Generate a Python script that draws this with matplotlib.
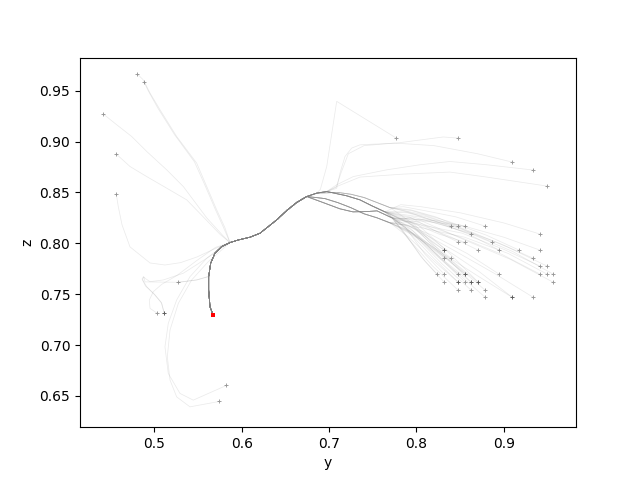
import matplotlib
matplotlib.use('Agg')
import matplotlib.pyplot as plt

end_point = (0.5675, 0.7292)

# shared parts of the paths (data coordinates, y -> horizontal, z -> vertical)
strand_u = [(0.7639, 0.8309), (0.7491, 0.8368), (0.7353, 0.8427), (0.7201, 0.8467)]
strand_v = [(0.7700, 0.8350), (0.7550, 0.8400), (0.7400, 0.8450), (0.7250, 0.8482),
            (0.7100, 0.8500)]
strand_l = [(0.7720, 0.8250), (0.7548, 0.8319), (0.7433, 0.8312), (0.7273, 0.8309),
            (0.7124, 0.8339), (0.6930, 0.8401)]
strand_m = [(0.7700, 0.8200), (0.7550, 0.8250), (0.7400, 0.8290), (0.7250, 0.8350),
            (0.7100, 0.8400), (0.6950, 0.8440)]
tail_peak = [(0.6973, 0.8509), (0.6858, 0.8493)]
tail_mid = [(0.6744, 0.8460), (0.6629, 0.8401), (0.6515, 0.8322), (0.6400, 0.8230),
            (0.6304, 0.8164), (0.6209, 0.8099), (0.6095, 0.8060), (0.5961, 0.8033)]
tail_join = [(0.5866, 0.8007), (0.5771, 0.7968), (0.5694, 0.7903), (0.5645, 0.7804),
             (0.5622, 0.7672)]
tail_end = [(0.5622, 0.7541), (0.5637, 0.7377), (0.5675, 0.7292)]

routes = {
    'U': strand_u + tail_peak + tail_mid + tail_join + tail_end,
    'V': strand_v + tail_peak[1:] + tail_mid + tail_join + tail_end,
    'L': strand_l + tail_mid + tail_join + tail_end,
    'M': strand_m + tail_mid + tail_join + tail_end,
    'P': tail_peak + tail_mid + tail_join + tail_end,
    'Q': tail_peak[1:] + tail_mid + tail_join + tail_end,
    'J': tail_join + tail_end,
    'E': tail_end,
}

# right cluster heads (first point = start marker)
right_heads = [
    ([(0.8398, 0.8168), (0.818, 0.823), (0.790, 0.830)], 'U'),
    ([(0.8478, 0.8168), (0.822, 0.826), (0.793, 0.833)], 'V'),
    ([(0.8558, 0.8168), (0.826, 0.822), (0.792, 0.824)], 'L'),
    ([(0.8787, 0.8168), (0.845, 0.826), (0.810, 0.832), (0.785, 0.836)], 'V'),
    ([(0.8627, 0.8090), (0.830, 0.818), (0.795, 0.826)], 'M'),
    ([(0.8478, 0.8011), (0.822, 0.812), (0.792, 0.826)], 'U'),
    ([(0.8558, 0.8011), (0.826, 0.809), (0.795, 0.820)], 'L'),
    ([(0.8867, 0.8011), (0.850, 0.815), (0.812, 0.826), (0.786, 0.831)], 'U'),
    ([(0.8318, 0.7932), (0.812, 0.806), (0.790, 0.818)], 'M'),
    ([(0.8318, 0.7932), (0.815, 0.803), (0.793, 0.820)], 'U'),
    ([(0.8707, 0.7932), (0.840, 0.806), (0.805, 0.818), (0.785, 0.824)], 'L'),
    ([(0.8947, 0.7932), (0.860, 0.809), (0.820, 0.822), (0.790, 0.831)], 'V'),
    ([(0.8318, 0.7853), (0.812, 0.799), (0.788, 0.814)], 'M'),
    ([(0.8398, 0.7853), (0.815, 0.801), (0.790, 0.821)], 'U'),
    ([(0.8238, 0.7696), (0.805, 0.787), (0.785, 0.812)], 'L'),
    ([(0.8318, 0.7696), (0.810, 0.789), (0.787, 0.816)], 'U'),
    ([(0.8478, 0.7696), (0.820, 0.790), (0.792, 0.812)], 'M'),
    ([(0.8558, 0.7696), (0.825, 0.792), (0.795, 0.818)], 'U'),
    ([(0.8558, 0.7696), (0.828, 0.789), (0.796, 0.812)], 'L'),
    ([(0.8947, 0.7696), (0.858, 0.790), (0.818, 0.808), (0.788, 0.818)], 'M'),
    ([(0.8318, 0.7617), (0.810, 0.782), (0.786, 0.810)], 'L'),
    ([(0.8478, 0.7617), (0.820, 0.785), (0.790, 0.812)], 'U'),
    ([(0.8478, 0.7617), (0.822, 0.781), (0.791, 0.806)], 'M'),
    ([(0.8558, 0.7617), (0.826, 0.786), (0.794, 0.814)], 'U'),
    ([(0.8627, 0.7617), (0.830, 0.784), (0.796, 0.810)], 'L'),
    ([(0.8627, 0.7617), (0.832, 0.788), (0.798, 0.818)], 'V'),
    ([(0.8707, 0.7617), (0.836, 0.786), (0.800, 0.808)], 'M'),
    ([(0.8707, 0.7617), (0.838, 0.790), (0.802, 0.818)], 'U'),
    ([(0.8478, 0.7538), (0.818, 0.778), (0.789, 0.806)], 'L'),
    ([(0.8627, 0.7538), (0.829, 0.780), (0.795, 0.810)], 'U'),
    ([(0.8787, 0.7538), (0.842, 0.781), (0.804, 0.804)], 'M'),
    ([(0.8787, 0.7469), (0.840, 0.776), (0.802, 0.806)], 'L'),
    ([(0.9416, 0.8090), (0.900, 0.820), (0.850, 0.830), (0.805, 0.836), (0.782, 0.838)], 'U'),
    ([(0.9176, 0.7932), (0.880, 0.808), (0.835, 0.822), (0.795, 0.832)], 'V'),
    ([(0.9416, 0.7932), (0.900, 0.806), (0.850, 0.818), (0.805, 0.822)], 'M'),
    ([(0.9336, 0.7853), (0.895, 0.800), (0.848, 0.815), (0.803, 0.826)], 'U'),
    ([(0.9416, 0.7775), (0.900, 0.794), (0.852, 0.810), (0.806, 0.818)], 'L'),
    ([(0.9497, 0.7775), (0.905, 0.796), (0.855, 0.814), (0.808, 0.828)], 'V'),
    ([(0.9416, 0.7696), (0.898, 0.789), (0.850, 0.806), (0.804, 0.820)], 'U'),
    ([(0.9497, 0.7696), (0.905, 0.790), (0.855, 0.806), (0.807, 0.815)], 'M'),
    ([(0.9565, 0.7696), (0.910, 0.792), (0.858, 0.811), (0.809, 0.823)], 'L'),
    ([(0.9565, 0.7617), (0.908, 0.784), (0.856, 0.803), (0.806, 0.822)], 'U'),
    ([(0.9096, 0.7469), (0.870, 0.768), (0.830, 0.790), (0.798, 0.808)], 'M'),
    ([(0.9096, 0.7469), (0.872, 0.772), (0.832, 0.795), (0.800, 0.816)], 'U'),
    ([(0.9336, 0.7469), (0.890, 0.770), (0.845, 0.792), (0.803, 0.812)], 'L'),
]

top_right_heads = [
    ([(0.7769, 0.9034), (0.7087, 0.9395), (0.6973, 0.8755), (0.6900, 0.8530)], 'Q'),
    ([(0.8478, 0.9034), (0.8307, 0.9045), (0.8002, 0.9011), (0.7773, 0.8985), (0.7354, 0.8968),
      (0.7259, 0.8936), (0.7182, 0.8853), (0.7125, 0.8690), (0.7087, 0.8540)], 'P'),
    ([(0.9096, 0.8798), (0.8700, 0.8880), (0.8200, 0.8960), (0.7750, 0.8985), (0.7400, 0.8960),
      (0.7220, 0.8880), (0.7140, 0.8700), (0.7080, 0.8550)], 'P'),
    ([(0.9336, 0.8720), (0.8803, 0.8772), (0.8383, 0.8804), (0.8040, 0.8772), (0.7659, 0.8722),
      (0.7277, 0.8656), (0.7087, 0.8575)], 'P'),
    ([(0.9497, 0.8562), (0.8803, 0.8651), (0.8383, 0.8700), (0.7849, 0.8680), (0.7354, 0.8651),
      (0.7087, 0.8558)], 'P'),
]

left_heads = [
    ([(0.4805, 0.9664), (0.4870, 0.9610), (0.4930, 0.9500), (0.5040, 0.9330), (0.5230, 0.9070),
      (0.5460, 0.8800), (0.5580, 0.8570), (0.5700, 0.8330), (0.5790, 0.8160)], 'J'),
    ([(0.4886, 0.9586), (0.4951, 0.9477), (0.5065, 0.9313), (0.5256, 0.9050), (0.5485, 0.8788),
      (0.5600, 0.8558), (0.5714, 0.8329), (0.5809, 0.8152)], 'J'),
    ([(0.4416, 0.9271), (0.4570, 0.9165), (0.4741, 0.9050), (0.4913, 0.8903), (0.5142, 0.8722),
      (0.5332, 0.8558), (0.5446, 0.8427), (0.5600, 0.8250), (0.5780, 0.8080)], 'J'),
    ([(0.4565, 0.8877), (0.4722, 0.8755), (0.4913, 0.8656), (0.5142, 0.8542), (0.5371, 0.8427),
      (0.5560, 0.8260), (0.5750, 0.8090)], 'J'),
    ([(0.4565, 0.8483), (0.4588, 0.8361), (0.4631, 0.8181), (0.4722, 0.7965), (0.4951, 0.7807),
      (0.5122, 0.7787), (0.5300, 0.7810), (0.5489, 0.7866), (0.5700, 0.7950)], 'J'),
    ([(0.5275, 0.7617), (0.5485, 0.7640), (0.5618, 0.7673)], 'E'),
    ([(0.5034, 0.7312), (0.4951, 0.7361), (0.4943, 0.7443), (0.4989, 0.7525), (0.5085, 0.7597),
      (0.5256, 0.7682), (0.5485, 0.7830), (0.5700, 0.7960)], 'J'),
    ([(0.5114, 0.7312), (0.5085, 0.7410), (0.5008, 0.7492), (0.4913, 0.7574), (0.4867, 0.7640),
      (0.4874, 0.7672), (0.4905, 0.7650), (0.4951, 0.7623), (0.5103, 0.7640), (0.5332, 0.7706),
      (0.5600, 0.7853), (0.5780, 0.7960)], 'J'),
    ([(0.5114, 0.7312), (0.5080, 0.7420), (0.5000, 0.7500), (0.4900, 0.7580), (0.4860, 0.7650),
      (0.4880, 0.7670), (0.4894, 0.7621), (0.5275, 0.7617), (0.5485, 0.7640), (0.5618, 0.7673)], 'E'),
    ([(0.5824, 0.6603), (0.5446, 0.6459), (0.5294, 0.6525), (0.5160, 0.6721), (0.5122, 0.6983),
      (0.5160, 0.7214), (0.5256, 0.7443), (0.5408, 0.7672), (0.5600, 0.7853), (0.5752, 0.7952)], 'J'),
    ([(0.5744, 0.6446), (0.5408, 0.6393), (0.5256, 0.6491), (0.5180, 0.6656), (0.5149, 0.6885),
      (0.5180, 0.7148), (0.5275, 0.7410), (0.5428, 0.7640), (0.5618, 0.7820), (0.5771, 0.7935)], 'J'),
]

trajectories = right_heads + top_right_heads + left_heads

fig, ax = plt.subplots(figsize=(6.4, 4.8), dpi=100)

for head, key in trajectories:
    pts = head + routes[key]
    xs = [p[0] for p in pts]
    ys = [p[1] for p in pts]
    ax.plot(xs, ys, color='gray', alpha=0.16, lw=0.55, zorder=1)

for head, key in trajectories:
    ax.plot(head[0][0], head[0][1], '+', color='black', alpha=0.38, ms=3, mew=0.7, zorder=3)

ax.plot(end_point[0], end_point[1], 's', color='red', ms=2.2, mew=0, zorder=4)

ax.set_xlim(0.415, 0.9825)
ax.set_ylim(0.6193, 0.9825)
ax.set_xlabel('y')
ax.set_ylabel('z')

fig.savefig('out.png', dpi=100)
